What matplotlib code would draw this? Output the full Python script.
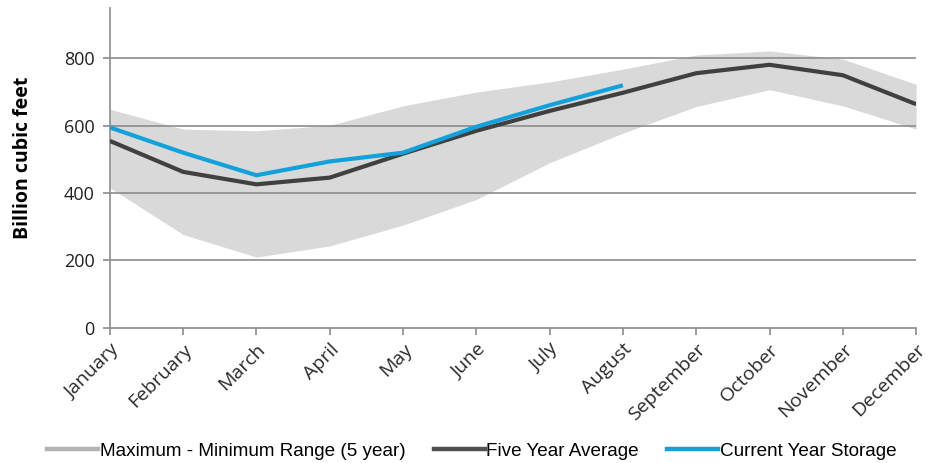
import matplotlib.pyplot as plt
from matplotlib.lines import Line2D
import numpy as np

months = ["January", "February", "March", "April", "May", "June", "July",
          "August", "September", "October", "November", "December"]
range_max = [649, 590, 585, 601, 659, 700, 730, 768, 810, 822, 798, 723]
range_min = [416, 277, 210, 243, 305, 381, 490, 578, 657, 707, 659, 590]
five_year_avg = [555, 463, 426, 446, 517, 585, 644, 698, 756, 781, 750, 664]
current_year = [595, 520, 453, 494, 520, 597, 661, 720]

plt.rcParams['font.family'] = ['Open Sans', 'DejaVu Sans']

fig = plt.figure(figsize=(9.31, 4.63), dpi=100)
ax = fig.add_axes([0.118, 0.292, 0.866, 0.691])

x = np.arange(len(months))
ax.fill_between(x, range_min, range_max, color='#d9d9d9', lw=0, zorder=1)
ax.plot(x, five_year_avg, color='#404040', lw=3, zorder=3, solid_capstyle='butt')
ax.plot(x[:len(current_year)], current_year, color='#13a1dc', lw=3, zorder=4,
        solid_capstyle='butt')

ax.set_xlim(0, 11)
ax.set_ylim(0, 950)
ax.set_yticks([0, 200, 400, 600, 800])
for v in [200, 400, 600, 800]:
    ax.axhline(v, color='#8c8c8c', lw=1.2, zorder=2)

ax.set_xticks(x)
ax.set_xticklabels(months, rotation=45, ha='right', rotation_mode='anchor',
                   fontsize=14, color='#2a2a2a', fontstretch='normal')
ax.tick_params(axis='y', length=5, width=1.2, color='#8c8c8c', labelsize=13,
               labelcolor='#222222', pad=6)
ax.tick_params(axis='x', length=5, width=1.2, color='#8c8c8c', pad=4)

for side in ['top', 'right']:
    ax.spines[side].set_visible(False)
for side in ['left', 'bottom']:
    ax.spines[side].set_color('#8c8c8c')
    ax.spines[side].set_linewidth(1.2)

ax.set_ylabel("Billion cubic feet", fontsize=14, fontweight='bold',
              fontstretch='normal')
ax.yaxis.set_label_coords(-0.095, 0.53)

handles = [Line2D([], [], color='#b4b4b4', lw=3.2),
           Line2D([], [], color='#505050', lw=3.2),
           Line2D([], [], color='#13a1dc', lw=3.2)]
labels = ["Maximum - Minimum Range (5 year)", "Five Year Average",
          "Current Year Storage"]
fig.legend(handles, labels, loc='center', bbox_to_anchor=(0.507, 0.026), ncol=3,
           frameon=False, handlelength=2.7, handletextpad=0.08, columnspacing=1.5,
           prop={'family': 'Liberation Sans', 'size': 13.6})

fig.savefig("out.png", dpi=100)
